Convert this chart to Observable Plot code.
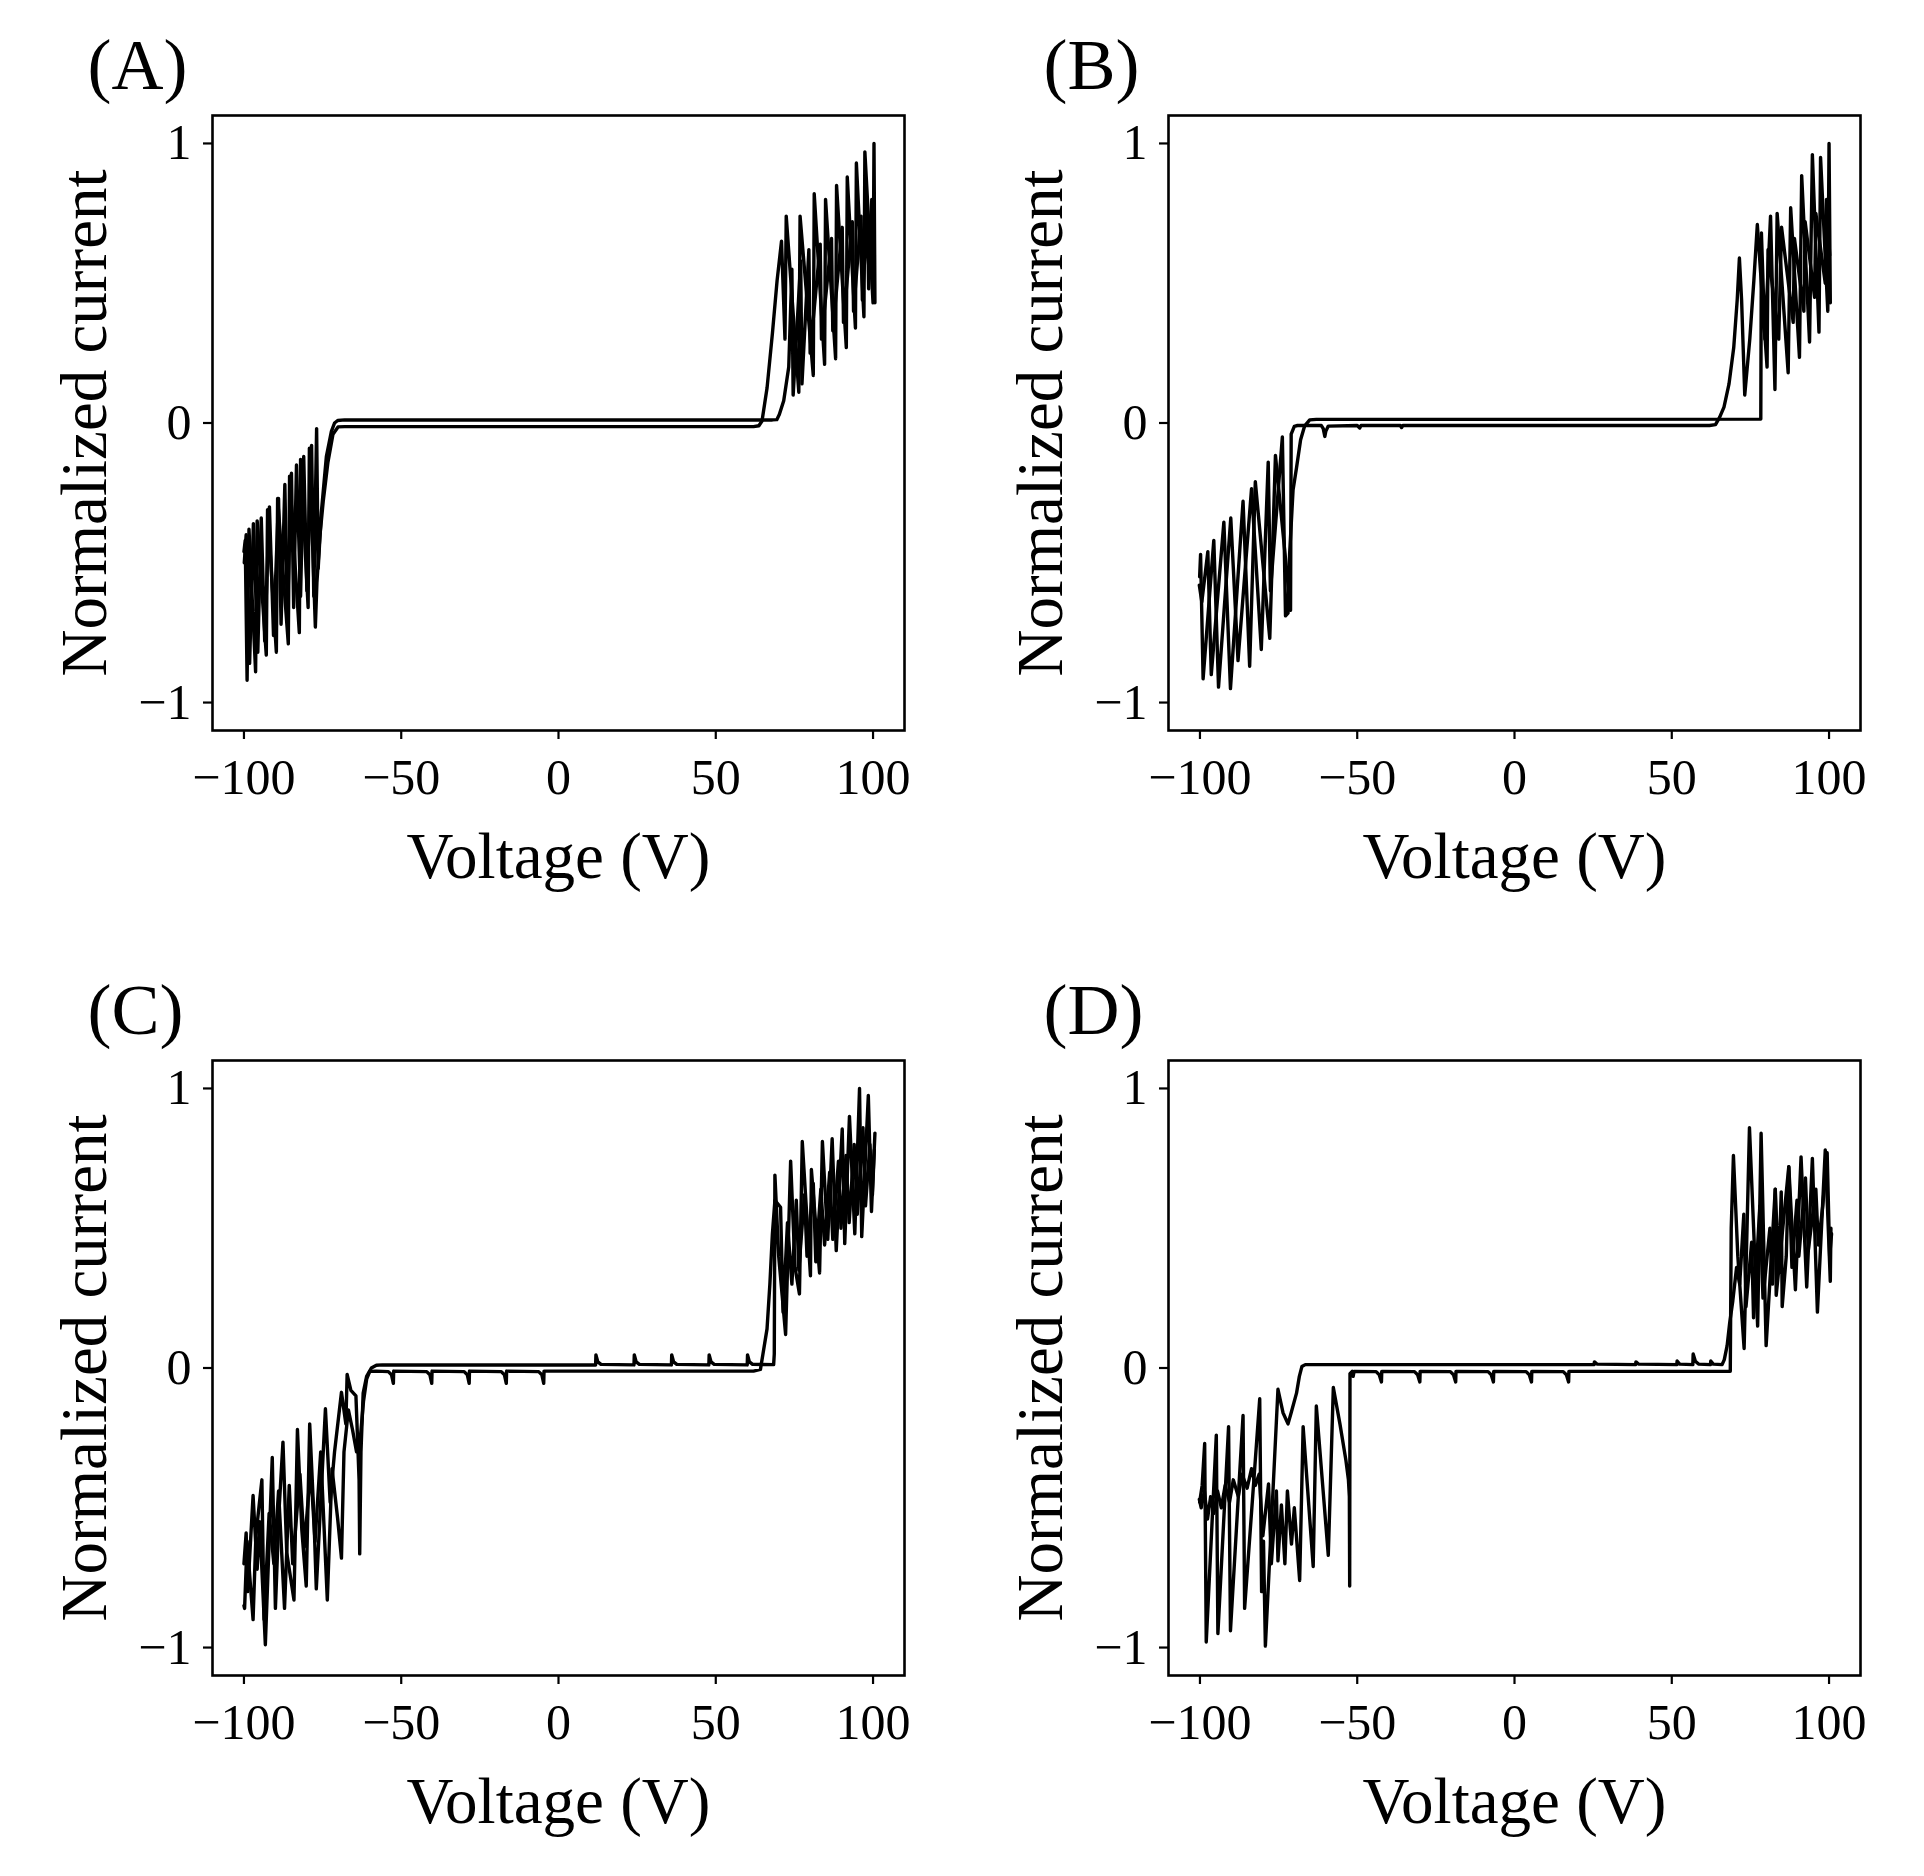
<!DOCTYPE html>
<html><head><meta charset="utf-8">
<script src="https://cdn.jsdelivr.net/npm/d3@7"></script>
<script src="https://cdn.jsdelivr.net/npm/@observablehq/plot@0.6"></script>
<style>
html,body{margin:0;padding:0;background:#fff;}
#fig{position:relative;width:1924px;height:1876px;background:#fff;overflow:hidden;}
.panel{position:absolute;}
</style></head><body><div id="fig"></div>
<script>
// ---------- data ----------
const voltageTicks = [-100, -50, 0, 50, 100];
const currentTicks = [-1, 0, 1];
const panelLabels = ["(A)", "(B)", "(C)", "(D)"];
const xLabel = "Voltage (V)";
const yLabel = "Normalized current";

// [voltage (V), normalized current]
const panelA_up = [[-99.9,-0.50],[-99.3,-0.40],[-98.2,-0.86],[-97.0,-0.36],[-95.6,-0.82],[-94.5,-0.34],[-93.4,-0.78],[-91.9,-0.30],[-90.6,-0.76],[-89.0,-0.27],[-88.2,-0.72],[-87.0,-0.22],[-86.2,-0.70],[-84.9,-0.18],[-84.2,-0.66],[-83.3,-0.15],[-82.0,-0.62],[-81.0,-0.12],[-80.0,-0.60],[-78.5,-0.08],[-77.8,-0.62],[-76.9,-0.02],[-76.4,-0.52],[-75.4,-0.32],[-73.8,-0.12],[-72.2,-0.03],[-71.2,0.0],[-70.2,0.009],[-68.0,0.011],[0,0.011],[68.0,0.011],[69.4,0.012],[70.2,0.03],[71.6,0.08],[73.2,0.20],[74.2,0.55],[74.6,0.10],[77.0,0.58],[77.4,0.14],[79.6,0.62],[80.0,0.25],[83.2,0.64],[83.6,0.30],[86.8,0.66],[87.2,0.33],[90.2,0.70],[90.6,0.36],[93.4,0.72],[93.8,0.40],[96.2,0.74],[96.6,0.44],[98.2,0.76],[98.6,0.48],[99.6,0.80],[100.0,0.62]];
const panelA_down = [[-100.0,-0.46],[-99.6,-0.42],[-99.0,-0.92],[-98.4,-0.38],[-96.3,-0.89],[-95.8,-0.35],[-92.9,-0.83],[-92.5,-0.31],[-89.7,-0.82],[-89.3,-0.27],[-85.9,-0.79],[-85.5,-0.19],[-82.4,-0.75],[-82.0,-0.13],[-79.6,-0.66],[-79.2,-0.09],[-77.3,-0.73],[-76.8,-0.57],[-75.9,-0.41],[-74.8,-0.28],[-73.3,-0.14],[-71.7,-0.04],[-70.1,-0.014],[-68.0,-0.013],[0,-0.013],[62.0,-0.013],[63.7,-0.010],[64.7,0.007],[66.3,0.125],[68.0,0.32],[69.5,0.51],[70.9,0.65],[72.0,0.30],[72.4,0.74],[76.4,0.11],[76.8,0.74],[81.0,0.17],[81.3,0.82],[84.6,0.21],[84.9,0.80],[88.1,0.23],[88.4,0.85],[91.5,0.27],[91.8,0.88],[94.4,0.34],[94.7,0.93],[97.1,0.38],[97.4,0.97],[100.0,0.43],[100.3,1.0],[100.6,0.43]];

const panelB_up = [[-100.1,-0.55],[-99.8,-0.47],[-99.0,-0.915],[-95.6,-0.42],[-94.1,-0.945],[-90.2,-0.34],[-87.9,-0.85],[-83.6,-0.235],[-80.5,-0.81],[-78.3,-0.14],[-77.6,-0.60],[-73.8,-0.05],[-72.8,-0.69],[-72.0,-0.68],[-71.5,-0.47],[-70.4,-0.24],[-69.3,-0.16],[-68.0,-0.06],[-66.7,-0.01],[-65.1,0.011],[-63.0,0.013],[0,0.013],[78.3,0.014],[78.5,0.68],[79.6,0.30],[81.4,0.74],[82.8,0.12],[83.5,0.75],[87.0,0.18],[87.8,0.77],[90.6,0.235],[91.3,0.885],[93.8,0.29],[94.7,0.96],[96.8,0.325],[97.3,0.95],[99.6,0.40],[100.0,1.0],[100.4,0.43]];
const panelB_down = [[-100.2,-0.58],[-99.4,-0.64],[-97.5,-0.46],[-96.4,-0.90],[-92.4,-0.355],[-90.3,-0.95],[-86.3,-0.28],[-84.2,-0.87],[-82.4,-0.21],[-77.8,-0.77],[-76.0,-0.116],[-71.2,-0.67],[-71.0,-0.04],[-70.0,-0.012],[-69.0,-0.009],[-61.4,-0.009],[-60.8,-0.02],[-60.3,-0.048],[-60.0,-0.03],[-59.2,-0.011],[-50.0,-0.009],[-49.2,-0.018],[-48.8,-0.009],[-36.3,-0.009],[-35.9,-0.016],[-35.5,-0.009],[0,-0.009],[62.0,-0.009],[63.9,-0.006],[65.2,0.02],[66.6,0.057],[68.2,0.14],[69.7,0.27],[70.8,0.44],[71.5,0.59],[72.2,0.44],[73.2,0.10],[74.8,0.30],[76.1,0.51],[77.2,0.71],[80.3,0.20],[80.6,0.62],[84.0,0.30],[84.9,0.70],[88.6,0.36],[89.0,0.66],[92.0,0.40],[92.4,0.72],[95.4,0.45],[95.8,0.75],[98.8,0.50],[99.2,0.80],[100.2,0.60]];

const panelC_up = [[-100.0,-0.70],[-99.3,-0.59],[-98.8,-0.80],[-97.1,-0.456],[-95.8,-0.72],[-95.0,-0.55],[-93.2,-0.99],[-91.0,-0.32],[-90.0,-0.86],[-88.8,-0.50],[-87.6,-0.265],[-86.4,-0.66],[-84.1,-0.83],[-83.0,-0.22],[-81.6,-0.58],[-80.2,-0.78],[-79.1,-0.20],[-77.8,-0.52],[-77.0,-0.79],[-74.1,-0.146],[-72.6,-0.48],[-71.2,-0.30],[-69.0,-0.087],[-67.6,-0.20],[-67.2,-0.023],[-66.0,-0.08],[-64.4,-0.10],[-63.4,-0.40],[-63.2,-0.665],[-62.8,-0.30],[-62.1,-0.09],[-61.0,-0.03],[-59.5,0.0],[-57.9,0.010],[-56.0,0.011],[11.8,0.011],[11.9,0.047],[12.5,0.022],[13.5,0.013],[24.0,0.011],[24.1,0.047],[24.7,0.022],[25.7,0.013],[35.9,0.011],[36.0,0.047],[36.6,0.022],[37.6,0.013],[47.8,0.011],[47.9,0.047],[48.5,0.022],[49.5,0.013],[60.0,0.011],[60.1,0.047],[60.7,0.022],[61.7,0.013],[68.4,0.012],[68.6,0.05],[68.8,0.69],[70.0,0.40],[72.2,0.12],[73.8,0.74],[75.2,0.36],[76.6,0.265],[77.5,0.81],[80.1,0.33],[80.4,0.71],[83.0,0.34],[83.9,0.81],[85.6,0.46],[87.0,0.82],[88.3,0.42],[90.2,0.855],[91.0,0.445],[92.5,0.90],[94.2,0.48],[95.7,1.0],[96.4,0.47],[98.5,0.975],[99.5,0.56],[100.6,0.84]];
const panelC_down = [[-100.0,-0.85],[-99.8,-0.86],[-99.0,-0.62],[-97.1,-0.90],[-96.2,-0.60],[-94.3,-0.40],[-93.6,-0.90],[-92.0,-0.52],[-90.5,-0.70],[-89.0,-0.44],[-87.1,-0.86],[-85.6,-0.42],[-84.5,-0.70],[-82.2,-0.38],[-80.8,-0.64],[-78.8,-0.36],[-77.4,-0.62],[-75.6,-0.30],[-73.5,-0.83],[-72.0,-0.36],[-70.2,-0.54],[-69.0,-0.68],[-68.2,-0.30],[-66.8,-0.15],[-65.5,-0.22],[-64.2,-0.30],[-63.0,-0.25],[-62.0,-0.12],[-61.0,-0.04],[-60.0,-0.012],[-58.0,-0.011],[-54.1,-0.013],[-53.1,-0.024],[-52.5,-0.055],[-52.4,-0.011],[-41.9,-0.013],[-40.9,-0.024],[-40.3,-0.055],[-40.2,-0.011],[-30.0,-0.013],[-29.0,-0.024],[-28.4,-0.055],[-28.3,-0.011],[-18.2,-0.013],[-17.2,-0.024],[-16.6,-0.055],[-16.5,-0.011],[-6.3,-0.013],[-5.3,-0.024],[-4.7,-0.055],[-4.6,-0.011],[62.0,-0.011],[64.2,-0.005],[65.0,0.05],[66.3,0.14],[67.2,0.30],[68.0,0.48],[68.8,0.60],[70.6,0.575],[71.4,0.20],[72.8,0.52],[74.2,0.30],[75.6,0.60],[76.4,0.35],[78.2,0.62],[79.0,0.40],[81.0,0.66],[81.8,0.38],[83.4,0.64],[84.6,0.44],[86.2,0.70],[87.2,0.46],[89.0,0.74],[89.8,0.50],[91.4,0.76],[92.4,0.52],[94.0,0.80],[95.0,0.55],[96.8,0.86],[97.6,0.58],[99.0,0.80],[99.8,0.62],[100.4,0.78]];

const panelD_up = [[-100.1,-0.48],[-99.3,-0.42],[-98.5,-0.27],[-98.0,-0.98],[-94.8,-0.24],[-94.3,-0.95],[-90.9,-0.21],[-90.3,-0.94],[-86.3,-0.17],[-85.8,-0.86],[-81.0,-0.11],[-80.4,-0.80],[-79.8,-0.62],[-79.2,-0.995],[-75.2,-0.076],[-73.6,-0.16],[-72.0,-0.20],[-71.0,-0.16],[-69.3,-0.09],[-68.4,-0.03],[-67.6,0.005],[-66.5,0.012],[-60.0,0.012],[25.3,0.012],[25.4,0.022],[26.2,0.014],[38.5,0.012],[38.6,0.022],[39.4,0.014],[51.6,0.012],[51.7,0.025],[52.5,0.014],[56.7,0.012],[56.8,0.05],[57.5,0.024],[58.5,0.014],[62.3,0.012],[62.4,0.025],[63.2,0.014],[66.0,0.012],[66.7,0.03],[67.6,0.08],[68.4,0.16],[69.4,0.24],[70.6,0.36],[71.6,0.30],[72.9,0.55],[73.6,0.22],[75.4,0.45],[76.0,0.18],[78.0,0.58],[79.0,0.25],[81.2,0.50],[82.0,0.30],[82.9,0.64],[84.0,0.34],[84.8,0.63],[85.1,0.22],[86.4,0.40],[87.2,0.72],[88.2,0.36],[89.8,0.60],[90.4,0.40],[92.5,0.68],[93.4,0.42],[95.8,0.64],[96.6,0.44],[98.0,0.58],[99.4,0.77],[100.2,0.40],[100.8,0.48]];
const panelD_down = [[-100.2,-0.47],[-99.6,-0.50],[-98.6,-0.44],[-97.6,-0.54],[-96.6,-0.46],[-95.6,-0.52],[-94.4,-0.44],[-93.2,-0.50],[-92.0,-0.42],[-90.6,-0.48],[-89.4,-0.40],[-87.8,-0.46],[-86.6,-0.38],[-85.0,-0.43],[-83.6,-0.36],[-82.4,-0.42],[-81.2,-0.38],[-80.0,-0.60],[-78.2,-0.415],[-77.3,-0.70],[-75.7,-0.44],[-75.2,-0.69],[-74.1,-0.49],[-73.0,-0.70],[-72.2,-0.44],[-70.9,-0.63],[-70.0,-0.50],[-68.3,-0.76],[-67.2,-0.21],[-64.0,-0.71],[-63.0,-0.136],[-59.2,-0.67],[-57.6,-0.07],[-55.5,-0.20],[-53.6,-0.33],[-52.8,-0.40],[-52.5,-0.46],[-52.4,-0.78],[-52.3,-0.02],[-51.6,-0.012],[-51.3,-0.03],[-51.0,-0.012],[-44.0,-0.013],[-43.0,-0.024],[-42.3,-0.05],[-42.2,-0.012],[-31.8,-0.013],[-30.8,-0.024],[-30.1,-0.05],[-30.0,-0.012],[-20.4,-0.013],[-19.4,-0.024],[-18.7,-0.05],[-18.6,-0.012],[-8.4,-0.013],[-7.4,-0.024],[-6.7,-0.05],[-6.6,-0.012],[3.7,-0.013],[4.7,-0.024],[5.4,-0.05],[5.5,-0.012],[15.5,-0.013],[16.5,-0.024],[17.2,-0.05],[17.3,-0.012],[68.6,-0.012],[68.9,0.50],[69.6,0.76],[71.0,0.40],[73.0,0.07],[74.7,0.86],[77.3,0.15],[78.4,0.84],[80.0,0.08],[82.9,0.64],[83.2,0.26],[87.2,0.72],[89.3,0.28],[91.1,0.755],[92.9,0.29],[94.7,0.75],[96.3,0.20],[98.8,0.78],[100.4,0.31],[100.6,0.50]];

// ---------- layout ----------
const panels = [
  {label: panelLabels[0], left: 0,   top: 0,   traces: {up: panelA_up, down: panelA_down}},
  {label: panelLabels[1], left: 956, top: 0,   traces: {up: panelB_up, down: panelB_down}},
  {label: panelLabels[2], left: 0,   top: 945, traces: {up: panelC_up, down: panelC_down}},
  {label: panelLabels[3], left: 956, top: 945, traces: {up: panelD_up, down: panelD_down}}
];

const ink = "#000";
const fig = document.getElementById("fig");

for (const p of panels) {
  const rows = [];
  for (const [name, pts] of Object.entries(p.traces)) {
    for (const [V, I] of pts) rows.push({V, I, trace: name});
  }
  const chart = Plot.plot({
    width: 962,
    height: 931,
    marginLeft: 212,
    marginRight: 58,
    marginTop: 115,
    marginBottom: 201,
    x: {domain: [-110, 110]},
    y: {domain: [-1.1, 1.1]},
    style: {
      fontFamily: "'Liberation Serif', 'Times New Roman', serif",
      background: "transparent",
      color: ink,
      overflow: "visible"
    },
    marks: [
      Plot.line(rows, {x: "V", y: "I", z: "trace", stroke: ink, strokeWidth: 3.4, strokeLinejoin: "round"}),
      Plot.frame({stroke: ink, strokeWidth: 2.6}),
      Plot.axisX({ticks: voltageTicks, tickFormat: "d", label: null, tickSize: 9, tickPadding: 19, fontSize: 50, strokeWidth: 2.2}),
      Plot.axisY({ticks: currentTicks, tickFormat: "d", label: null, tickSize: 9, tickPadding: 12, fontSize: 50, strokeWidth: 2.2}),
      Plot.text([p.label], {text: d => d, frameAnchor: "top-left", textAnchor: "start", lineAnchor: "bottom", dx: -125, dy: -27, fontSize: 72, fill: ink}),
      Plot.text([xLabel], {text: d => d, frameAnchor: "bottom", textAnchor: "middle", lineAnchor: "bottom", dy: 147, fontSize: 65, fill: ink}),
      Plot.text([yLabel], {text: d => d, frameAnchor: "left", textAnchor: "middle", lineAnchor: "bottom", rotate: -90, dx: -107, fontSize: 65, fill: ink})
    ]
  });
  const div = document.createElement("div");
  div.className = "panel";
  div.style.left = p.left + "px";
  div.style.top = p.top + "px";
  div.appendChild(chart);
  fig.appendChild(div);
}
</script>
</body></html>
